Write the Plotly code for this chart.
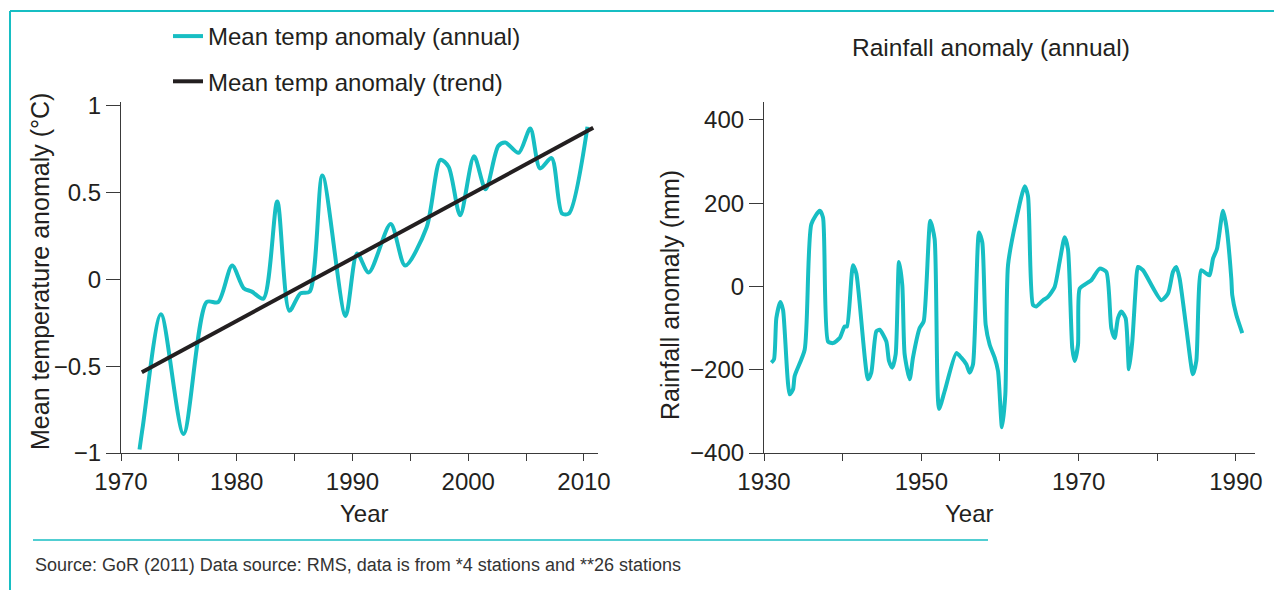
import plotly.graph_objects as go

# page body has an 8px margin, so the figure is offset by 8px
OX, OY = 8, 8
W, H = 1274, 582
CYAN = "#17bec3"
INK = "#231f20"
AXIS = "#3a3a3a"
FONT = "Liberation Sans, Arial, sans-serif"

# ---- Left chart: mean temperature anomaly (°C) ----
temp_years = [1971.6, 1971.9, 1973.45, 1975.4, 1977.4, 1978.4, 1979.6, 1980.6, 1981.3,
              1982.3, 1983.5, 1984.55, 1985.5, 1986.3, 1987.4, 1989.4, 1990.4, 1991.4,
              1993.3, 1994.55, 1996.4, 1997.6, 1998.3, 1999.3, 2000.5, 2001.5, 2002.6,
              2003.2, 2004.35, 2005.36, 2006.2, 2007.2, 2008.1, 2008.7, 2010.3]
temp_values = [-0.98, -0.84, -0.20, -0.89, -0.13, -0.13, 0.08, -0.05, -0.07,
               -0.11, 0.45, -0.18, -0.08, -0.07, 0.60, -0.21, 0.15, 0.04,
               0.32, 0.08, 0.30, 0.69, 0.65, 0.37, 0.71, 0.52, 0.77,
               0.79, 0.73, 0.87, 0.64, 0.70, 0.38, 0.38, 0.88]
trend_years = [1971.8, 2010.8]
trend_values = [-0.535, 0.874]

temp_xticks = [1970, 1975, 1980, 1985, 1990, 1995, 2000, 2005, 2010]
temp_xlabels = ["1970", "", "1980", "", "1990", "", "2000", "", "2010"]
temp_yticks = [-1, -0.5, 0, 0.5, 1]
temp_ylabels = ["\u22121", "\u22120.5", "0", "0.5", "1"]

# ---- Right chart: rainfall anomaly (mm) ----
rain_years = [1930.93, 1931.27, 1931.57, 1932.08, 1932.42, 1933.26, 1933.69, 1933.9, 1935.17,
              1936.02, 1937.08, 1937.5, 1938.14, 1938.77, 1939.62, 1940.25, 1940.55, 1941.31,
              1941.74, 1943.22, 1943.64, 1944.28, 1944.7, 1945.55, 1945.89, 1946.31, 1946.74,
              1947.16, 1947.58, 1947.88, 1948.52, 1948.94, 1949.79, 1950.3, 1951.14, 1951.69,
              1952.25, 1952.97, 1954.45, 1955.08, 1955.72, 1956.14, 1956.57, 1957.33, 1957.75,
              1958.18, 1958.69, 1959.32, 1959.75, 1960.25, 1960.68, 1961.02, 1962.08, 1963.14,
              1963.56, 1964.19, 1964.62, 1965.47, 1966.1, 1966.95, 1967.58, 1968.22, 1968.64,
              1969.19, 1969.49, 1969.92, 1970.13, 1970.97, 1971.61, 1972.67, 1973.52, 1974.15,
              1974.58, 1975.0, 1975.42, 1975.97, 1976.4, 1976.82, 1977.25, 1977.54, 1978.18,
              1980.51, 1981.36, 1981.99, 1982.42, 1982.84, 1983.69, 1984.53, 1984.96, 1985.59,
              1986.23, 1986.65, 1987.08, 1987.58, 1988.35, 1988.77, 1989.41, 1989.53, 1990.04,
              1990.8]
rain_values = [-183, -175, -76, -37, -56, -259, -247, -215, -152,
               150, 182, 166, -132, -136, -124, -96, -96, 51,
               31, -223, -207, -108, -104, -132, -179, -195, -163,
               59, 3, -163, -223, -171, -100, -84, 158, 114,
               -294, -251, -160, -171, -187, -207, -187, 130, 106,
               -92, -140, -171, -203, -338, -259, 51, 162, 241,
               217, -44, -48, -33, -25, -1, 59, 118, 90,
               -148, -179, -140, -5, 7, 15, 43, 35, -100,
               -124, -76, -60, -76, -199, -132, -5, 47, 39,
               -33, -17, 35, 47, 19, -100, -211, -179, 39,
               31, 27, 67, 90, 182, 146, 19, -21, -68,
               -112]

rain_xticks = [1930, 1940, 1950, 1960, 1970, 1980, 1990]
rain_xlabels = ["1930", "", "1950", "", "1970", "", "1990"]
rain_yticks = [-400, -200, 0, 200, 400]
rain_ylabels = ["\u2212400", "\u2212200", "0", "200", "400"]


def px(x):
    return (x - OX) / W


def py(y):
    return 1 - (y - OY) / H


fig = go.Figure()
fig.add_trace(go.Scatter(x=temp_years, y=temp_values, mode="lines",
                         name="Mean temp anomaly (annual)", legendgroup="a",
                         line=dict(color=CYAN, width=4, shape="spline", smoothing=0.8),
                         xaxis="x", yaxis="y"))
fig.add_trace(go.Scatter(x=trend_years, y=trend_values, mode="lines",
                         name="Mean temp anomaly (trend)", legendgroup="b",
                         line=dict(color=INK, width=4), xaxis="x", yaxis="y"))
fig.add_trace(go.Scatter(x=rain_years, y=rain_values, mode="lines", showlegend=False,
                         line=dict(color=CYAN, width=4, shape="spline", smoothing=0.6),
                         xaxis="x2", yaxis="y2"))

common = dict(showline=True, linecolor=AXIS, linewidth=1.2, ticks="outside",
              tickcolor=AXIS, tickwidth=1.2, showgrid=False, zeroline=False,
              automargin=False,
              tickfont=dict(size=24, color=INK, family=FONT), fixedrange=True)

ydom = [py(453), py(102)]
fig.update_layout(
    width=W, height=H, margin=dict(l=0, r=0, t=0, b=0, pad=0, autoexpand=False),
    paper_bgcolor="white", plot_bgcolor="white",
    font=dict(family=FONT, color=INK),
    xaxis=dict(domain=[px(121), px(598)], range=[1970, 2011.21], tickmode="array",
               tickvals=temp_xticks, ticktext=temp_xlabels, ticklen=7, anchor="y", **common),
    yaxis=dict(domain=ydom, range=[-1, 1.023], tickmode="array",
               tickvals=temp_yticks, ticktext=temp_ylabels, ticklen=14, anchor="x", **common),
    xaxis2=dict(domain=[px(764), px(1255)], range=[1930, 1992.42], tickmode="array",
                tickvals=rain_xticks, ticktext=rain_xlabels, ticklen=7, anchor="y2", **common),
    yaxis2=dict(domain=ydom, range=[-400, 443.2], tickmode="array",
                tickvals=rain_yticks, ticktext=rain_ylabels, ticklen=14, anchor="x2", **common),
    showlegend=True,
    legend=dict(x=px(168), y=py(14), xanchor="left", yanchor="top",
                font=dict(size=24, color=INK, family=FONT), bgcolor="rgba(0,0,0,0)",
                tracegroupgap=11, itemclick=False, itemdoubleclick=False),
)

ann = [
    dict(text="Rainfall anomaly (annual)", x=px(991), y=py(48), size=24.5),
    dict(text="Year", x=px(364), y=py(513), size=24),
    dict(text="Year", x=px(970), y=py(513), size=24),
]
for a in ann:
    fig.add_annotation(text=a["text"], x=a["x"], y=a["y"], xref="paper", yref="paper",
                       xanchor="center", yanchor="middle", showarrow=False,
                       font=dict(size=a["size"], color=INK, family=FONT))
fig.add_annotation(text="Mean temperature anomaly (\u00b0C)", x=px(40), y=py(272),
                   xref="paper", yref="paper", textangle=-90, showarrow=False,
                   xanchor="center", yanchor="middle",
                   font=dict(size=25, color=INK, family=FONT))
fig.add_annotation(text="Rainfall anomaly (mm)", x=px(670), y=py(295),
                   xref="paper", yref="paper", textangle=-90, showarrow=False,
                   xanchor="center", yanchor="middle",
                   font=dict(size=25, color=INK, family=FONT))
fig.add_annotation(text="Source: GoR (2011) Data source: RMS, data is from *4 stations and **26 stations",
                   x=px(33), y=py(565), xref="paper", yref="paper", showarrow=False,
                   xanchor="left", yanchor="middle",
                   font=dict(size=18, color="#333333", family=FONT))

# frame lines
fig.add_shape(type="line", xref="paper", yref="paper", x0=px(10), x1=1, y0=py(11), y1=py(11),
              line=dict(color=CYAN, width=2))
fig.add_shape(type="line", xref="paper", yref="paper", x0=px(10), x1=px(10), y0=py(11), y1=0,
              line=dict(color=CYAN, width=2))
fig.add_shape(type="line", xref="paper", yref="paper", x0=px(33), x1=px(988), y0=py(540), y1=py(540),
              line=dict(color=CYAN, width=1.5))

fig.write_html("out.html")
